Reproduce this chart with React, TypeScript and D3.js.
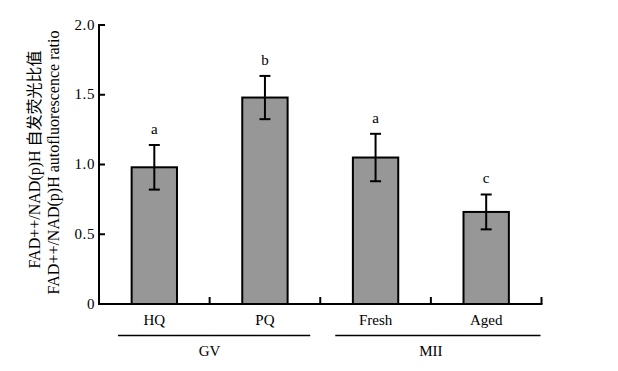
import React from "react";
import * as d3 from "d3";

const categories = ["HQ", "PQ", "Fresh", "Aged"];
const values = [0.98, 1.48, 1.05, 0.66];
const errors = [0.16, 0.155, 0.17, 0.125];
const letters = ["a", "b", "a", "c"];
const groups = [
  { name: "GV", from: 0, to: 1 },
  { name: "MII", from: 2, to: 3 },
];
const yTicks = [0, 0.5, 1.0, 1.5, 2.0];
const yTitle1 = "FAD++/NAD(p)H 自发荧光比值";
const yTitle2 = "FAD++/NAD(p)H autofluorescence ratio";

const W = 618;
const H = 371;
const X0 = 99;
const X1 = 541.5;
const Y0 = 304;
const Y1 = 25;
const FONT = "'Liberation Serif', 'Times New Roman', 'Noto Sans CJK SC', serif";

export default function App() {
  const x = d3
    .scaleBand<string>()
    .domain(categories)
    .range([X0, X1])
    .paddingInner(0.59)
    .paddingOuter(0.295);
  const y = d3.scaleLinear().domain([0, 2]).range([Y0, Y1]);
  const step = x.step();
  const bw = x.bandwidth();
  const cap = 5.5;

  const fmt = (v: number) => (v === 0 ? "0" : d3.format(".1f")(v));

  return (
    <svg
      width={W}
      height={H}
      style={{ position: "absolute", left: 0, top: 0, background: "#fff" }}
      fontFamily={FONT}
    >
      {/* bars */}
      {categories.map((c, i) => {
        const bx = x(c)!;
        const cx = bx + bw / 2;
        const v = values[i];
        const e = errors[i];
        return (
          <g key={c}>
            <rect
              x={bx}
              y={y(v)}
              width={bw}
              height={Y0 - y(v)}
              fill="#979797"
              stroke="#000"
              strokeWidth={2}
            />
            <line x1={cx} x2={cx} y1={y(v - e)} y2={y(v + e)} stroke="#000" strokeWidth={2} />
            <line x1={cx - cap} x2={cx + cap} y1={y(v + e)} y2={y(v + e)} stroke="#000" strokeWidth={2} />
            <line x1={cx - cap} x2={cx + cap} y1={y(v - e)} y2={y(v - e)} stroke="#000" strokeWidth={2} />
            <text x={cx} y={y(v + e) - 11} textAnchor="middle" fontSize={15}>
              {letters[i]}
            </text>
            <text x={cx} y={325} textAnchor="middle" fontSize={15}>
              {c}
            </text>
          </g>
        );
      })}

      {/* axes */}
      <line x1={X0} x2={X0} y1={Y1 - 1} y2={Y0 + 1} stroke="#000" strokeWidth={2} />
      <line x1={X0 - 1} x2={X1 + 1} y1={Y0} y2={Y0} stroke="#000" strokeWidth={2} />
      {yTicks.map((t) => (
        <g key={t}>
          <line x1={X0} x2={X0 + 6} y1={y(t)} y2={y(t)} stroke="#000" strokeWidth={2} />
          <text x={95} y={y(t) + 4.5} textAnchor="end" fontSize={15} letterSpacing={0.6}>
            {fmt(t)}
          </text>
        </g>
      ))}
      {categories.map((c, i) => (
        <line
          key={"sep" + c}
          x1={X0 + step * (i + 1)}
          x2={X0 + step * (i + 1)}
          y1={Y0}
          y2={Y0 - 7}
          stroke="#000"
          strokeWidth={2}
        />
      ))}

      {/* groups */}
      {groups.map((g, gi) => {
        const left = X0 + step * g.from + (gi === 0 ? 19 : 15);
        const right = X0 + step * (g.to + 1) - (gi === 0 ? 10 : 1);
        const cx = (X0 + step * g.from + X0 + step * (g.to + 1)) / 2;
        return (
          <g key={g.name}>
            <line x1={left} x2={right} y1={335.5} y2={335.5} stroke="#000" strokeWidth={1.5} />
            <text x={cx} y={356} textAnchor="middle" fontSize={15}>
              {g.name}
            </text>
          </g>
        );
      })}

      {/* y title */}
      <text transform="translate(39.5,159.5) rotate(-90)" textAnchor="middle" fontSize={16}>
        {yTitle1}
      </text>
      <text transform="translate(58.5,162.5) rotate(-90)" textAnchor="middle" fontSize={16}>
        {yTitle2}
      </text>
    </svg>
  );
}
